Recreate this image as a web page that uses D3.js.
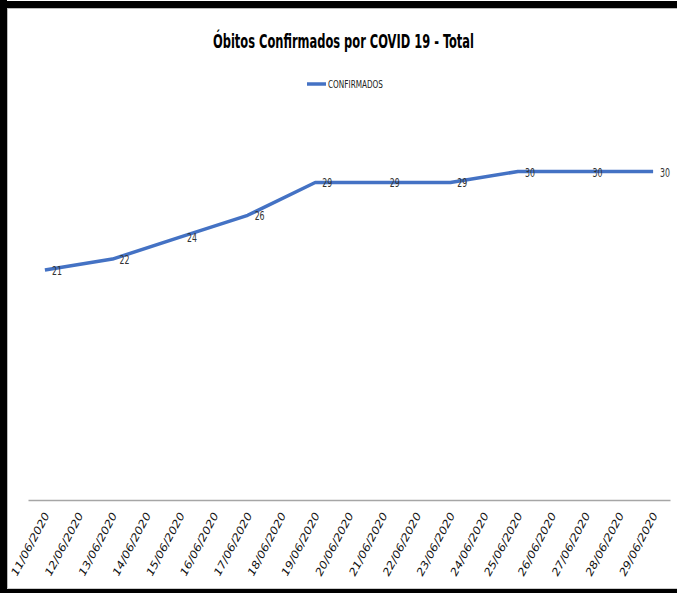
<!DOCTYPE html>
<html><head><meta charset="utf-8">
<script src="https://cdn.jsdelivr.net/npm/d3@7"></script>
<style>
html,body{margin:0;padding:0;background:#fff;}
svg{display:block;}
text{font-family:"Liberation Sans Narrow","DejaVu Sans Condensed","Liberation Sans",sans-serif;}
</style></head>
<body>
<script>
const title = "Óbitos Confirmados por COVID 19 - Total";
const seriesName = "CONFIRMADOS";
const categories = ["11/06/2020","12/06/2020","13/06/2020","14/06/2020","15/06/2020","16/06/2020","17/06/2020","18/06/2020","19/06/2020","20/06/2020","21/06/2020","22/06/2020","23/06/2020","24/06/2020","25/06/2020","26/06/2020","27/06/2020","28/06/2020","29/06/2020"];
const pointDates = ["11/06/2020","13/06/2020","15/06/2020","17/06/2020","19/06/2020","21/06/2020","23/06/2020","25/06/2020","27/06/2020","29/06/2020"];
const values = [21,22,24,26,29,29,29,30,30,30];

const W = 677, H = 593;
const svg = d3.select("body").append("svg").attr("width", W).attr("height", H);
svg.append("rect").attr("width", W).attr("height", H).attr("fill", "#fff");

// frame
svg.append("rect").attr("x",0).attr("y",0).attr("width",7).attr("height",H).attr("fill","#000");
svg.append("rect").attr("x",0).attr("y",1).attr("width",W).attr("height",7).attr("fill","#000");
svg.append("rect").attr("x",0).attr("y",589).attr("width",W).attr("height",4).attr("fill","#000");
svg.append("line").attr("x1",7.5).attr("x2",7.5).attr("y1",8).attr("y2",589).attr("stroke","#bbb");
svg.append("line").attr("x1",7).attr("x2",W).attr("y1",8.5).attr("y2",8.5).attr("stroke","#bbb");
svg.append("line").attr("x1",7).attr("x2",W).attr("y1",588.5).attr("y2",588.5).attr("stroke","#ccc");

const x = d3.scaleBand().domain(categories).range([28, 670]);
const y = d3.scaleLinear().domain([0, 35]).range([500, 500 - 35 * 10.95]);

// title
svg.append("text").attr("x", 213).attr("y", 48)
  .attr("font-size", 20).attr("font-weight","bold").attr("fill","#000")
  .attr("textLength", 261).attr("lengthAdjust","spacingAndGlyphs").text(title);

// legend
svg.append("line").attr("x1",307).attr("x2",326).attr("y1",84).attr("y2",84)
  .attr("stroke","#4472C4").attr("stroke-width",3.5);
svg.append("text").attr("x",328).attr("y",88).attr("font-size",11).attr("fill","#222")
  .attr("textLength",55).attr("lengthAdjust","spacingAndGlyphs").text(seriesName);

// x axis
const xAxis = d3.axisBottom(x).tickSize(0).tickPadding(0);
const gx = svg.append("g").attr("transform","translate(0,500)").call(xAxis);
gx.select(".domain").attr("stroke","#a6a6a6").attr("stroke-width",1.5);
gx.selectAll(".tick text")
  .attr("font-family",'"Liberation Sans Narrow","DejaVu Sans Condensed",sans-serif')
  .attr("font-size",10.5).attr("font-style","italic").attr("fill","#111")
  .attr("text-anchor","end").attr("dy",0).attr("y",0)
  .attr("textLength",70).attr("lengthAdjust","spacingAndGlyphs")
  .attr("transform","translate(5,15) rotate(-62)");

// line
const pts = pointDates.map((d,i)=>({d, v: values[i]}));
const line = d3.line().x(p => x(p.d) + x.bandwidth()/2).y(p => y(p.v));
svg.append("path").datum(pts).attr("d", line).attr("fill","none")
  .attr("stroke","#4472C4").attr("stroke-width",3.5).attr("stroke-linejoin","round");

// data labels
svg.selectAll(".dl").data(pts).enter().append("text").attr("class","dl")
  .attr("x", p => x(p.d) + x.bandwidth()/2 + 7)
  .attr("y", p => y(p.v) + 5)
  .attr("font-size", 12.5).attr("fill","#333")
  .attr("textLength", 10).attr("lengthAdjust","spacingAndGlyphs").text(p => p.v);
</script>
</body></html>
